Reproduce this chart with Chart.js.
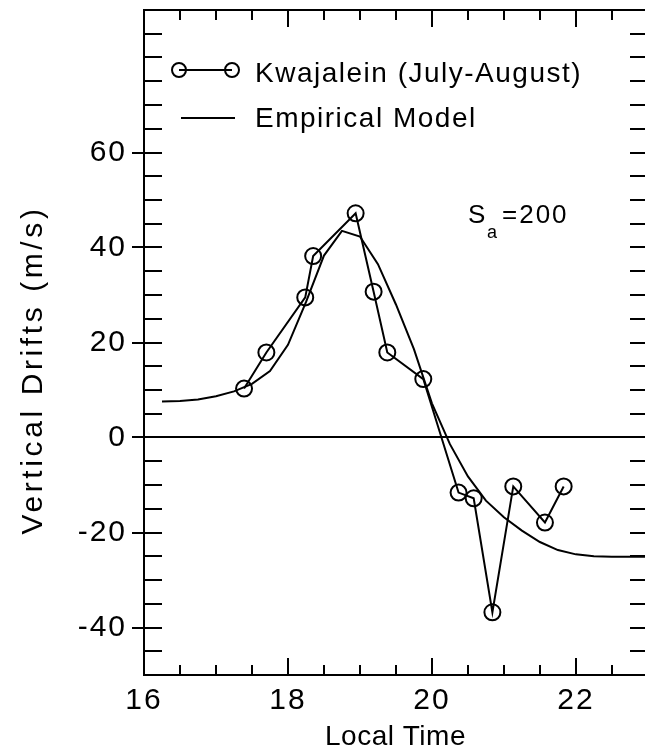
<!DOCTYPE html>
<html><head><meta charset="utf-8">
<script src="https://cdn.jsdelivr.net/npm/chart.js@4.4.1/dist/chart.umd.min.js"></script>
<style>html,body{margin:0;padding:0;background:#fff;}canvas{display:block;}</style>
</head><body>
<canvas id="c" width="645" height="750"></canvas>
<script>
// Kwajalein (July-August) observed vertical drifts
const kwajTime  = [17.39, 17.70, 18.24, 18.35, 18.94, 19.19, 19.38, 19.88, 20.37, 20.58, 20.84, 21.13, 21.57, 21.83];
const kwajDrift = [10.3, 17.9, 29.5, 38.2, 47.2, 30.7, 17.9, 12.3, -11.6, -12.8, -36.8, -10.3, -17.9, -10.3];
// Empirical model curve
const modelTime  = [16.25, 16.5, 16.75, 17.0, 17.25, 17.5, 17.75, 18.0, 18.25, 18.5, 18.75, 19.0, 19.25, 19.5, 19.75, 20.0, 20.25, 20.5, 20.75, 21.0, 21.25, 21.5, 21.75, 22.0, 22.25, 22.5, 23.0];
const modelDrift = [7.6, 7.7, 8.0, 8.7, 9.7, 11.3, 14.0, 19.5, 28.5, 38.3, 43.5, 42.3, 36.5, 28.0, 18.6, 7.2, -1.4, -8.2, -13.3, -16.8, -19.6, -22.0, -23.7, -24.6, -25.0, -25.1, -25.1];
// Tick labels
const xTickLabels = [16, 18, 20, 22];
const yTickLabels = [-40, -20, 0, 20, 40, 60];
const legendLabels = ['Kwajalein (July-August)', 'Empirical Model'];
const axisTitles = {x: 'Local Time', y: 'Vertical Drifts (m/s)'};

const FONT = "'Liberation Sans', Arial, Helvetica, sans-serif";
Chart.defaults.font.family = FONT;
Chart.defaults.color = '#000';

const toXY = (xs, ys) => xs.map((x, i) => ({x, y: ys[i]}));
const noPad = s => {
  s.paddingTop = 0; s.paddingBottom = 0; s.paddingLeft = 0; s.paddingRight = 0;
};

const decor = {
  id: 'decor',
  beforeDraw(chart) {
    chart.ctx.letterSpacing = '2px';
  },
  afterDraw(chart) {
    const ctx = chart.ctx;
    const xs = chart.scales.x, ys = chart.scales.y;
    const L = chart.chartArea.left, R = chart.chartArea.right + 3, T = chart.chartArea.top, B = chart.chartArea.bottom;
    ctx.save();
    ctx.strokeStyle = '#000';
    ctx.lineWidth = 2;
    ctx.lineCap = 'butt';
    // frame
    ctx.beginPath();
    ctx.moveTo(L, T); ctx.lineTo(R, T);
    ctx.moveTo(L, T - 1); ctx.lineTo(L, B + 1);
    ctx.moveTo(L, B); ctx.lineTo(R, B);
    ctx.moveTo(R, T); ctx.lineTo(R, B);
    ctx.stroke();
    // y ticks (inward on both sides, outward at labelled ones)
    ctx.beginPath();
    for (let v = -45; v <= 85; v += 5) {
      const py = Math.round(ys.getPixelForValue(v));
      const labelled = yTickLabels.includes(v);
      ctx.moveTo(labelled ? L - 12 : L, py); ctx.lineTo(L + 18, py);
      ctx.moveTo(R - 18, py); ctx.lineTo(R, py);
    }
    // x ticks
    for (let v = 16.5; v <= 22.9; v += 0.5) {
      const px = Math.round(xs.getPixelForValue(v));
      const major = xTickLabels.includes(v);
      const len = major ? 17 : 10;
      ctx.moveTo(px, B); ctx.lineTo(px, B - len);
      ctx.moveTo(px, T); ctx.lineTo(px, T + len);
    }
    ctx.stroke();

    // legend
    ctx.lineWidth = 2;
    ctx.beginPath();
    ctx.moveTo(179, 70); ctx.lineTo(232, 70);
    ctx.moveTo(181, 118); ctx.lineTo(235, 118);
    ctx.stroke();
    [179, 232].forEach(cx => { ctx.beginPath(); ctx.arc(cx, 70, 7, 0, Math.PI * 2); ctx.stroke(); });
    ctx.fillStyle = '#000';
    ctx.textBaseline = 'alphabetic';
    ctx.textAlign = 'left';
    ctx.letterSpacing = '1.5px';
    ctx.font = '28px ' + FONT;
    ctx.fillText(legendLabels[0], 255, 82);
    ctx.fillText(legendLabels[1], 255, 127);

    // S_a = 200 annotation
    ctx.font = '26px ' + FONT;
    ctx.letterSpacing = '2px';
    ctx.fillText('S', 468, 223);
    ctx.font = '18px ' + FONT;
    ctx.fillText('a', 487, 238);
    ctx.font = '26px ' + FONT;
    ctx.fillText('=200', 502, 223);

    // x axis title (centred on the plot area)
    ctx.textAlign = 'center';
    ctx.textBaseline = 'alphabetic';
    ctx.font = '28px ' + FONT;
    ctx.letterSpacing = '0.5px';
    ctx.fillText(axisTitles.x, (chart.chartArea.left + chart.chartArea.right) / 2 + 1, 745);

    // y axis title
    ctx.save();
    ctx.translate(34, 370);
    ctx.rotate(-Math.PI / 2);
    ctx.textAlign = 'center';
    ctx.textBaseline = 'middle';
    ctx.font = '30px ' + FONT;
    ctx.letterSpacing = '3.6px';
    ctx.fillText(axisTitles.y, 0, 0);
    ctx.restore();
    ctx.restore();
  }
};

new Chart(document.getElementById('c'), {
  type: 'line',
  data: {
    datasets: [
      {
        label: legendLabels[0],
        data: toXY(kwajTime, kwajDrift),
        borderColor: '#000',
        borderWidth: 2,
        pointRadius: 8,
        pointBorderWidth: 2,
        pointBorderColor: '#000',
        pointBackgroundColor: 'rgba(0,0,0,0)',
        tension: 0,
        fill: false,
        clip: false
      },
      {
        label: legendLabels[1],
        data: toXY(modelTime, modelDrift),
        borderColor: '#000',
        borderWidth: 2,
        pointRadius: 0,
        tension: 0,
        fill: false
      }
    ]
  },
  options: {
    responsive: false,
    animation: false,
    devicePixelRatio: 1,
    layout: {autoPadding: false, padding: {top: 10, right: 0, bottom: 0, left: 0}},
    plugins: {legend: {display: false}, tooltip: {enabled: false}},
    scales: {
      x: {
        type: 'linear',
        min: 16, max: 22.96,
        afterFit: s => { s.height = 75; noPad(s); },
        border: {display: false},
        grid: {display: false, drawTicks: false},
        ticks: {
          stepSize: 2, includeBounds: false, autoSkip: false, maxRotation: 0,
          padding: 8,
          font: {size: 30},
          callback: v => xTickLabels.includes(v) ? String(v) : ''
        },
        title: {display: false, text: axisTitles.x}
      },
      y: {
        type: 'linear',
        min: -50, max: 90,
        afterFit: s => { s.width = 144; noPad(s); },
        border: {display: false},
        grid: {
          drawTicks: false,
          lineWidth: 2,
          color: c => (c.tick && c.tick.value === 0) ? '#000' : 'rgba(0,0,0,0)'
        },
        ticks: {
          stepSize: 5, includeBounds: false, autoSkip: false,
          padding: 17,
          font: {size: 30},
          callback: v => yTickLabels.includes(v) ? String(v) : ''
        }
      }
    }
  },
  plugins: [decor]
});
</script>
</body></html>
